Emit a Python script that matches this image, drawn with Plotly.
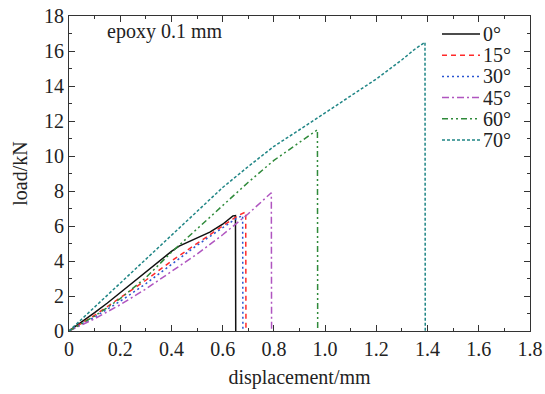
import plotly.graph_objects as go

# data (displacement mm, load kN)
x0 = [0, 0.05, 0.1, 0.15, 0.2, 0.25, 0.3, 0.35, 0.4, 0.43, 0.46, 0.5, 0.55, 0.6, 0.62, 0.64, 0.65, 0.651]
y0 = [0, 0.5, 1.05, 1.6, 2.2, 2.8, 3.4, 4.0, 4.55, 4.85, 5.05, 5.3, 5.65, 6.1, 6.35, 6.58, 6.6, 0]
x15 = [0, 0.1, 0.2, 0.3, 0.4, 0.5, 0.6, 0.66, 0.69, 0.691]
y15 = [0, 0.9, 1.9, 2.9, 4.0, 5.0, 6.0, 6.6, 6.8, 0]
x30 = [0, 0.1, 0.2, 0.3, 0.4, 0.5, 0.6, 0.65, 0.678, 0.679]
y30 = [0, 0.8, 1.7, 2.7, 3.8, 4.9, 5.9, 6.4, 6.6, 0]
x45 = [0, 0.1, 0.2, 0.3, 0.4, 0.5, 0.6, 0.7, 0.79, 0.791]
y45 = [0, 0.7, 1.5, 2.4, 3.4, 4.4, 5.5, 6.7, 7.9, 0]
x60 = [0, 0.1, 0.2, 0.3, 0.4, 0.5, 0.6, 0.7, 0.8, 0.9, 0.95, 0.97, 0.971]
y60 = [0, 0.85, 1.85, 3.05, 4.5, 5.85, 7.2, 8.5, 9.75, 10.8, 11.3, 11.5, 0]
x70 = [0, 0.2, 0.4, 0.6, 0.7, 0.8, 0.9, 1.0, 1.1, 1.2, 1.3, 1.35, 1.39, 1.391]
y70 = [0, 2.75, 5.5, 8.2, 9.4, 10.55, 11.5, 12.45, 13.4, 14.4, 15.5, 16.1, 16.5, 0]

names = ["0°", "15°", "30°", "45°", "60°", "70°"]
xs_all = [x0, x15, x30, x45, x60, x70]
ys_all = [y0, y15, y30, y45, y60, y70]
colors = ["#111111", "#ff2a2a", "#2a55d0", "#b055c0", "#2f8a3a", "#1f8585"]
dashes = ["solid", "5px,4px", "2px,3px", "7px,3px,2px,3px", "6px,3px,2px,3px,2px,3px", "3px,2px"]

FF = "Times New Roman, Liberation Serif, DejaVu Serif, serif"
font = dict(family=FF, size=20, color="#222")

fig = go.Figure()
for name, xs, ys, col, dash in zip(names, xs_all, ys_all, colors, dashes):
    fig.add_trace(go.Scatter(x=xs, y=ys, mode="lines", name=name, showlegend=False,
                             line=dict(color=col, dash=dash, width=1.5)))

# manual legend (to match the compact row spacing)
W, H = 461.0, 315.0
shapes, annots = [], []
for i, (name, col, dash) in enumerate(zip(names, colors, dashes)):
    py = 34 + i * 21.2
    yp = (331 - py) / H
    shapes.append(dict(type="line", xref="paper", yref="paper",
                       x0=(442 - 69) / W, x1=(480 - 69) / W, y0=yp, y1=yp,
                       line=dict(color=col, dash=dash, width=1.5)))
    annots.append(dict(xref="paper", yref="paper", x=(481 - 69) / W, y=yp, text=name,
                       showarrow=False, xanchor="left", yanchor="middle", font=font))

annots.append(dict(x=0.14, y=17.1, xref="x", yref="y", text="epoxy 0.1 mm",
                   showarrow=False, xanchor="left", yanchor="middle", font=font))

axis_common = dict(showline=True, linecolor="#333", linewidth=1.2, mirror="ticks",
                   ticks="inside", ticklen=6, tickcolor="#333", showgrid=False,
                   zeroline=False, tickfont=font, automargin=False)

fig.update_layout(
    width=545, height=394, autosize=False,
    margin=dict(l=69, r=15, t=16, b=63),
    paper_bgcolor="white", plot_bgcolor="white",
    font=font, showlegend=False,
    xaxis=dict(range=[0, 1.8], tickvals=[0, 0.2, 0.4, 0.6, 0.8, 1.0, 1.2, 1.4, 1.6, 1.8],
               ticktext=["0", "0.2", "0.4", "0.6", "0.8", "1.0", "1.2", "1.4", "1.6", "1.8"],
               minor=dict(dtick=0.1, ticks="inside", ticklen=3, tickcolor="#333"),
               title=dict(text="displacement/mm", font=font, standoff=10), **axis_common),
    yaxis=dict(range=[0, 18], dtick=2,
               minor=dict(dtick=1, ticks="inside", ticklen=3, tickcolor="#333"),
               title=dict(text="load/kN", font=font, standoff=10), **axis_common),
    shapes=shapes, annotations=annots,
)

fig.write_html("out.html")
